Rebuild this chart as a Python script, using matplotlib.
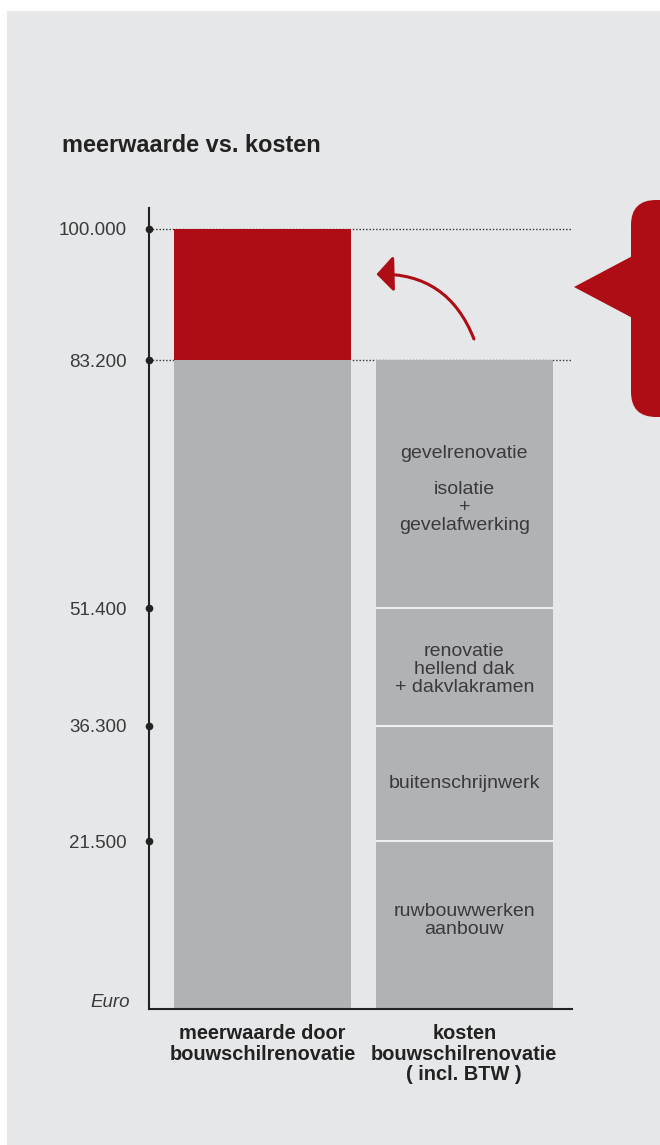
import matplotlib
matplotlib.use("Agg")
import matplotlib.pyplot as plt
from matplotlib.patches import FancyBboxPatch, Polygon, Rectangle, FancyArrowPatch

# ---- data ----
categories = ["meerwaarde door\nbouwschilrenovatie", "kosten\nbouwschilrenovatie\n( incl. BTW )"]
meerwaarde_base = 83200
meerwaarde_total = 100000
cost_bounds = [0, 21500, 36300, 51400, 83200]
cost_labels = ["ruwbouwwerken\naanbouw", "buitenschrijnwerk",
               "renovatie\nhellend dak\n+ dakvlakramen",
               "gevelrenovatie\n\nisolatie\n+\ngevelafwerking"]
tick_values = [21500, 36300, 51400, 83200, 100000]
tick_labels = ["21.500", "36.300", "51.400", "83.200", "100.000"]
title = "meerwaarde vs. kosten"

RED = "#ae0d16"
GRAY = "#b1b2b5"
BG = "#e6e7e9"
TXT = "#3a3a3a"
FONT = "Liberation Sans"

W, H = 660, 1145
fig = plt.figure(figsize=(W / 100, H / 100), dpi=100, facecolor="white")

# background panel
fig.patches.append(Rectangle((7 / W, 0), 1, (H - 11) / H, transform=fig.transFigure,
                             facecolor=BG, edgecolor="none", zorder=-2))

ax_left, ax_right, ax_bot, ax_top = 149, 572, 1009, 208
ax = fig.add_axes([ax_left / W, (H - ax_bot) / H, (ax_right - ax_left) / W, (ax_bot - ax_top) / H])
ax.set_facecolor("none")
ax.set_zorder(2)

bw = 0.877
x = [0, 1]
# left bar
ax.bar(x[0], meerwaarde_base, width=bw, color=GRAY, zorder=2)
ax.bar(x[0], meerwaarde_total - meerwaarde_base, bottom=meerwaarde_base, width=bw, color=RED, zorder=2)
# right bar stacked
label_shift = [600, 0, -300, -700]
for i in range(len(cost_labels)):
    lo, hi = cost_bounds[i], cost_bounds[i + 1]
    ax.bar(x[1], hi - lo, bottom=lo, width=bw, color=GRAY, zorder=2)
    ax.text(x[1], (lo + hi) / 2 + label_shift[i], cost_labels[i], ha="center", va="center",
            fontsize=14, color=TXT, family=FONT, linespacing=1.08, zorder=4)
for b in cost_bounds[1:-1]:
    ax.plot([x[1] - bw / 2, x[1] + bw / 2], [b, b], color="#efefef", lw=1.5, zorder=3,
            solid_capstyle="butt")

ax.set_xlim(-0.5626, 1.534)
ax.set_ylim(0, 102692)

# dotted reference lines
for v in [meerwaarde_total, meerwaarde_base]:
    ax.axhline(v, color="#333333", lw=1.0, ls=(0, (1, 1.4)), zorder=1)

# spines
for s in ["top", "right"]:
    ax.spines[s].set_visible(False)
for s in ["left", "bottom"]:
    ax.spines[s].set_color("#222222")
    ax.spines[s].set_linewidth(1.5)
    ax.spines[s].set_zorder(5)

ax.set_yticks(tick_values)
ax.set_yticklabels(tick_labels, fontsize=13.5, color=TXT, family=FONT)
ax.tick_params(axis="y", length=0, pad=16)
ax.set_xticks(x)
ax.set_xticklabels(categories, fontsize=14.4, fontweight="bold", color="#222222", family=FONT,
                   linespacing=1.1)
ax.tick_params(axis="x", length=0, pad=11)
for lab in ax.get_xticklabels():
    lab.set_va("top")

# tick dots
ax.plot([0] * len(tick_values), tick_values, "o", ms=4.5, color="#222222",
        transform=ax.get_yaxis_transform(), clip_on=False, zorder=6)

# Euro label
ax.text(-19 / 423, 0.003, "Euro", transform=ax.transAxes, ha="right", va="baseline",
        fontsize=13.5, style="italic", color=TXT, family=FONT)

# title
fig.text(62 / W, 1 - 145 / H, title, ha="left", va="center", fontsize=16.9,
         fontweight="bold", color="#222222", family=FONT)

# curved arrow
arrow = FancyArrowPatch((1.048, 85900), (0.565, 94200), transform=ax.transData,
                        connectionstyle="arc3,rad=0.35",
                        arrowstyle="-|>,head_length=0.52,head_width=0.55",
                        mutation_scale=20, color=RED, lw=2.2, clip_on=False, zorder=6,
                        shrinkA=0, shrinkB=0)
ax.add_patch(arrow)

# callout shape on the right
fig.patches.append(FancyBboxPatch((631 / W, (H - 417) / H), 0.2, (417 - 200) / H,
                                  boxstyle="round,pad=0,rounding_size=0.038",
                                  transform=fig.transFigure, facecolor=RED, edgecolor="none",
                                  zorder=1, mutation_aspect=W / H))
fig.patches.append(Polygon([(574 / W, 1 - 287 / H), (640 / W, 1 - 252 / H), (640 / W, 1 - 322 / H)],
                           closed=True, transform=fig.transFigure, facecolor=RED,
                           edgecolor="none", zorder=1))

fig.savefig("out.png", dpi=100, facecolor="white")
